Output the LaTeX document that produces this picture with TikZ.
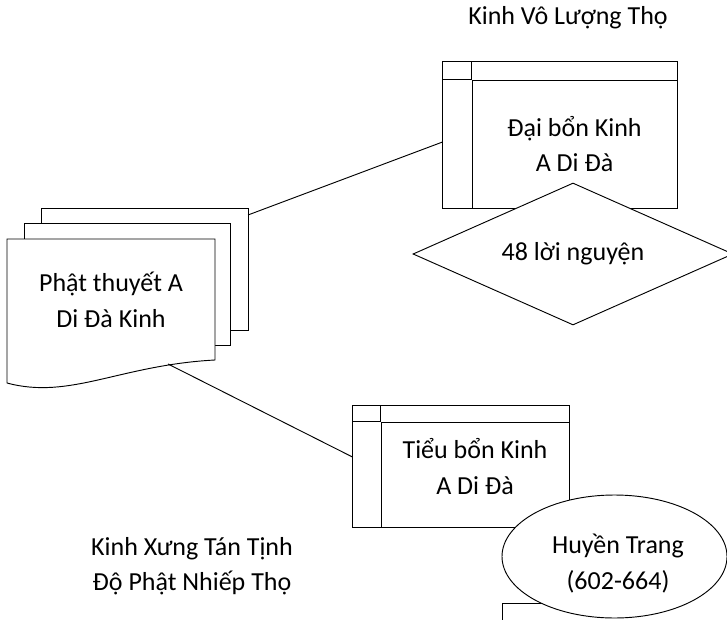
\documentclass[tikz,border=0pt]{standalone}
\usepackage{fontspec}
\setmainfont{Carlito}
\usepackage{tikz}
\usetikzlibrary{shapes}

\begin{document}
\begin{tikzpicture}[x=0.75pt,y=-0.75pt,line width=0.7pt]
    \tikzstyle{txt}=[text=black, align=center, font=\fontsize{19.5}{26.5}\selectfont]
    \tikzstyle{sheet}=[draw=black, fill=white]
    \tikzstyle{store}=[style=txt, draw=black, fill=white, inner sep=0pt]
    \tikzstyle{choice}=[style=txt, diamond, aspect=2.25, draw=black, fill=white, inner sep=0pt]
    \tikzstyle{bubble}=[style=txt, ellipse, draw=black, fill=white, inner sep=0pt]

    \useasboundingbox (0,0) rectangle (727,620);

    % stacked pages
    \draw[sheet] (41,208) rectangle (248,330);
    \draw[sheet] (24,223) rectangle (230,345);
    \draw[sheet] (7,239) -- (215,239) -- (215,360) .. controls (120,365) and (70,400) .. (7,383) -- cycle;
    \node[txt] (doc) at (111,300) {Phật thuyết A\\Di Đà Kinh};
    \coordinate (docR) at (248,215);
    \coordinate (docB) at (168,364);

    % large sutra
    \node[txt] (title) at (568,18) {Kinh Vô Lượng Thọ};
    \node[store, minimum width=153.75pt, minimum height=96pt] (big) at (574.5,144) {Đại bổn Kinh\\A Di Đà};
    \draw ([xshift=-21.75pt]big.south west) rectangle ([yshift=13.5pt]big.north east);
    \draw ([xshift=-21.75pt]big.north west) -- (big.north west);
    \draw ([yshift=13.5pt]big.north west) -- (big.north west);
    \node[choice, minimum width=240pt, minimum height=106.5pt] (vow) at (573,254) {48 lời nguyện};

    % small sutra
    \node[store, minimum width=141pt, minimum height=78.75pt] (small) at (475,474.5) {};
    \draw ([xshift=-21pt]small.south west) rectangle ([yshift=12pt]small.north east);
    \draw ([xshift=-21pt]small.north west) -- (small.north west);
    \draw ([yshift=12pt]small.north west) -- (small.north west);
    \node[txt] (smalltxt) at (475,466.5) {Tiểu bổn Kinh\\A Di Đà};

    \draw (502,640) -- (502,603) -- (560,603);
    \node[bubble, minimum width=168.75pt, minimum height=92.25pt] (monk) at (614.5,556.5) {};
    \node[txt] (monktxt) at (618,563.5) {Huyền Trang\\(602-664)};

    \node[txt] (praise) at (192,566) {Kinh Xưng Tán Tịnh\\Độ Phật Nhiếp Thọ};

    \path (docR) edge ([xshift=-21.75pt,yshift=1.5pt]big.west)
          (docB) edge ([xshift=-21pt,yshift=13.1pt]small.west);
\end{tikzpicture}
\end{document}
